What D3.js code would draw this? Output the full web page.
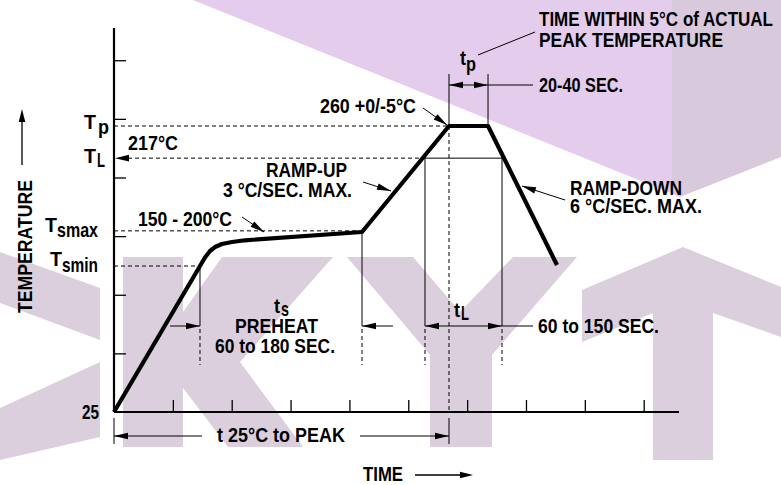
<!DOCTYPE html>
<html><head><meta charset="utf-8">
<script src="https://cdn.jsdelivr.net/npm/d3@7"></script>
<style>
html,body{margin:0;padding:0;background:#fff;}
svg{display:block;}
text{font-family:'Liberation Sans Narrow','Arial Narrow','Liberation Sans',Arial,sans-serif;font-weight:bold;fill:#000;}
</style></head><body>
<svg id="c" width="781" height="485"></svg>
<script>
// ---------- data (schematic units: time ticks / temperature ticks) ----------
const profileTime  = [0, 1.461, 1.546, 1.631, 1.716, 1.835, 2.005, 2.226, 4.214, 5.692, 6.355, 7.527];
const profileLevel = [0, 2.490, 2.635, 2.746, 2.814, 2.866, 2.900, 2.929, 3.070, 4.878, 4.878, 2.507];
const levelNames   = ["Tp", "TL", "Tsmax", "Tsmin"];
const levelValues  = [4.878, 4.33, 3.09, 2.49];
const xTicks = [1, 2, 3, 4, 5, 6, 7, 8, 9];
const yTicks = [1, 2, 3, 4, 5, 6];
const preheatTimes  = [1.461, 4.214];
const liquidusTimes = [5.284, 6.593];
const peakTimes     = [5.692, 6.355];

const svg = d3.select("#c");
const x = d3.scaleLinear().domain([0, 9.6]).range([114, 679]);
const y = d3.scaleLinear().domain([0, 6.55]).range([412, 28]);
const lv = n => levelValues[levelNames.indexOf(n)];

// ---------- watermark ----------
const wm = svg.append("g");
const wmLow = "#dccfdd", wmTop = "#e4cdec", wmTopR = "#d9c9dd";
const poly = (pts, c) => wm.append("polygon").attr("points", pts.map(p => p.join(",")).join(" ")).attr("fill", c);
poly([[193,0],[672,0],[672,193.6]], wmTop);
poly([[672,0],[781,0],[781,157],[680,197],[672,193.6]], wmTopR);
poly([[0,252],[100,288],[100,340],[0,303]], wmLow);
poly([[100,362],[100,437],[0,460],[0,408]], wmLow);
poly([[123,257],[183,257],[183,447],[123,447]], wmLow);
poly([[183,312],[222,257],[333,257],[240,362],[303,447],[228,447],[183,388]], wmLow);
poly([[347,257],[413,257],[460,312],[513,257],[577,257],[492,355],[492,447],[430,447],[430,355]], wmLow);
poly([[582,290],[683,247],[781,287],[781,337],[713,313],[713,460],[653,460],[653,313],[582,342]], wmLow);

// ---------- helpers ----------
const g = svg.append("g");
function line(x1, y1, x2, y2, w = 1, dash = null) {
  const l = g.append("line").attr("x1", x1).attr("y1", y1).attr("x2", x2).attr("y2", y2)
    .attr("stroke", "#000").attr("stroke-width", w);
  if (dash) l.attr("stroke-dasharray", dash);
  return l;
}
function head(tx, ty, fx, fy, len = 14, hw = 3.3) {
  const a = Math.atan2(ty - fy, tx - fx);
  const bx = tx - len * Math.cos(a), by = ty - len * Math.sin(a);
  const px = -Math.sin(a) * hw, py = Math.cos(a) * hw;
  g.append("polygon").attr("points", `${tx},${ty} ${bx + px},${by + py} ${bx - px},${by - py}`).attr("fill", "#000");
}
function arrowLine(x1, y1, tx, ty) { line(x1, y1, tx, ty, 1); head(tx, ty, x1, y1); }
function txt(x0, y0, s, len, size = 20.5) {
  const t = g.append("text").attr("x", x0).attr("y", y0).attr("font-size", size).text(s);
  if (len) t.attr("textLength", len).attr("lengthAdjust", "spacingAndGlyphs");
  return t;
}

// ---------- axes ----------
const xAxis = g.append("g").attr("transform", `translate(0,${y(0)})`)
  .call(d3.axisBottom(x).tickValues(xTicks).tickSize(-12).tickFormat(""));
const yAxis = g.append("g").attr("transform", `translate(${x(0)},0)`)
  .call(d3.axisLeft(y).tickValues(yTicks).tickSize(-12).tickFormat(""));
[xAxis, yAxis].forEach(a => { a.select(".domain").remove(); a.selectAll(".tick line").attr("stroke", "#000").attr("stroke-width", 1.3); });
line(x(0), y(0), x(9.6), y(0), 2.2);
line(x(0), y(6.55), x(0), y(0), 2.2);

// ---------- level dashed lines ----------
const D = "4,3";
line(x(0), y(lv("Tp")), x(peakTimes[0]), y(lv("Tp")), 1, D);
line(x(0) + 14, y(lv("TL")), x(liquidusTimes[0]), y(lv("TL")), 1, D);
head(x(0) + 1, y(lv("TL")), x(0) + 20, y(lv("TL")));
line(x(liquidusTimes[0]), y(lv("TL")), x(liquidusTimes[1]), y(lv("TL")), 1);
line(x(0), y(lv("Tsmax")), x(preheatTimes[1]), y(lv("Tsmax")), 1, D);
line(x(0), y(lv("Tsmin")), x(preheatTimes[0]), y(lv("Tsmin")), 1, D);

// ---------- vertical markers ----------
const yArr = 326, yDashEnd = 365;
line(x(preheatTimes[0]), y(lv("Tsmin")), x(preheatTimes[0]), yArr, 1);
line(x(preheatTimes[0]), yArr + 3, x(preheatTimes[0]), yDashEnd, 1, D);
line(x(preheatTimes[1]), y(profileLevel[8]), x(preheatTimes[1]), yArr, 1);
line(x(preheatTimes[1]), yArr + 3, x(preheatTimes[1]), yDashEnd, 1, D);
liquidusTimes.forEach(t => {
  line(x(t), y(lv("TL")), x(t), yArr, 1);
  line(x(t), yArr + 3, x(t), yDashEnd, 1, D);
});
line(x(peakTimes[0]), y(lv("Tp")), x(peakTimes[0]), y(0), 1, D);
line(x(peakTimes[0]), 418, x(peakTimes[0]), 444, 1);
line(x(0), 418, x(0), 444, 1);
peakTimes.forEach(t => line(x(t), 74, x(t), y(lv("Tp")), 1));

// bracket arrows
arrowLine(170, yArr, x(preheatTimes[0]), yArr);
arrowLine(393, yArr, x(preheatTimes[1]), yArr);
line(x(liquidusTimes[0]), yArr, 533, yArr, 1);
head(x(liquidusTimes[0]), yArr, x(liquidusTimes[0]) + 20, yArr);
head(x(liquidusTimes[1]), yArr, x(liquidusTimes[1]) - 20, yArr);
line(x(peakTimes[0]), 85, 533, 85, 1);
head(x(peakTimes[0]), 85, x(peakTimes[0]) + 20, 85);
head(x(peakTimes[1]), 85, x(peakTimes[1]) - 20, 85);
line(x(0), 436, 202, 436, 1); head(x(0), 436, x(0) + 20, 436);
line(360, 436, x(peakTimes[0]), 436, 1); head(x(peakTimes[0]), 436, x(peakTimes[0]) - 20, 436);
line(478, 55, 535, 32, 1);

// leaders
arrowLine(423, 108, 447, 125);
arrowLine(363, 182, 391, 191);
arrowLine(242, 217, 264, 232);
arrowLine(565, 200, 522, 186);

// axis title arrows
line(22, 165, 22, 118, 1.3); head(22, 109, 22, 130, 13, 3.3);
line(415, 475, 462, 475, 1.3); head(473, 475, 450, 475, 13, 3.3);

// ---------- profile ----------
g.append("path").datum(profileTime.map((t, i) => [t, profileLevel[i]]))
  .attr("d", d3.line().x(d => x(d[0])).y(d => y(d[1])))
  .attr("fill", "none").attr("stroke", "#000").attr("stroke-width", 4.2)
  .attr("stroke-linejoin", "round");

// ---------- texts ----------
txt(539, 26, "TIME WITHIN  5°C of ACTUAL", 234);
txt(539, 47, "PEAK TEMPERATURE", 184);
txt(460, 65, "t", 6); txt(466, 70.5, "p", 10);
txt(539, 92, "20-40 SEC.", 84);
txt(320, 113, "260 +0/-5°C", 96);
txt(84, 129, "T", 12); txt(98, 133.5, "p", 11);
txt(128, 150, "217°C", 50);
txt(84, 163, "T", 12); txt(97, 167, "L", 8);
txt(266, 177, "RAMP-UP", 81);
txt(223, 197, "3 °C/SEC. MAX.", 129);
txt(138, 226, "150 - 200°C", 94);
txt(45, 232, "T", 12); txt(57, 236.5, "smax", 41);
txt(50, 265.5, "T", 12); txt(62, 271.5, "smin", 36);
g.append("text").attr("transform", "translate(32,246.5) rotate(-90)").attr("text-anchor", "middle")
  .attr("font-size", 21).attr("textLength", 133).attr("lengthAdjust", "spacingAndGlyphs").text("TEMPERATURE");
txt(82, 419, "25", 17);
txt(274, 313, "t", 6); txt(281, 316, "s", 8);
txt(235, 333, "PREHEAT", 83);
txt(215, 353, "60 to 180 SEC.", 120);
txt(454, 317, "t", 6); txt(461, 320, "L", 8);
txt(538, 333, "60 to 150 SEC.", 121);
txt(570, 195, "RAMP-DOWN", 112);
txt(570, 213, "6 °C/SEC. MAX.", 132);
txt(217, 442, "t 25°C to PEAK", 128);
txt(363, 481, "TIME", 40);
</script>
</body></html>
